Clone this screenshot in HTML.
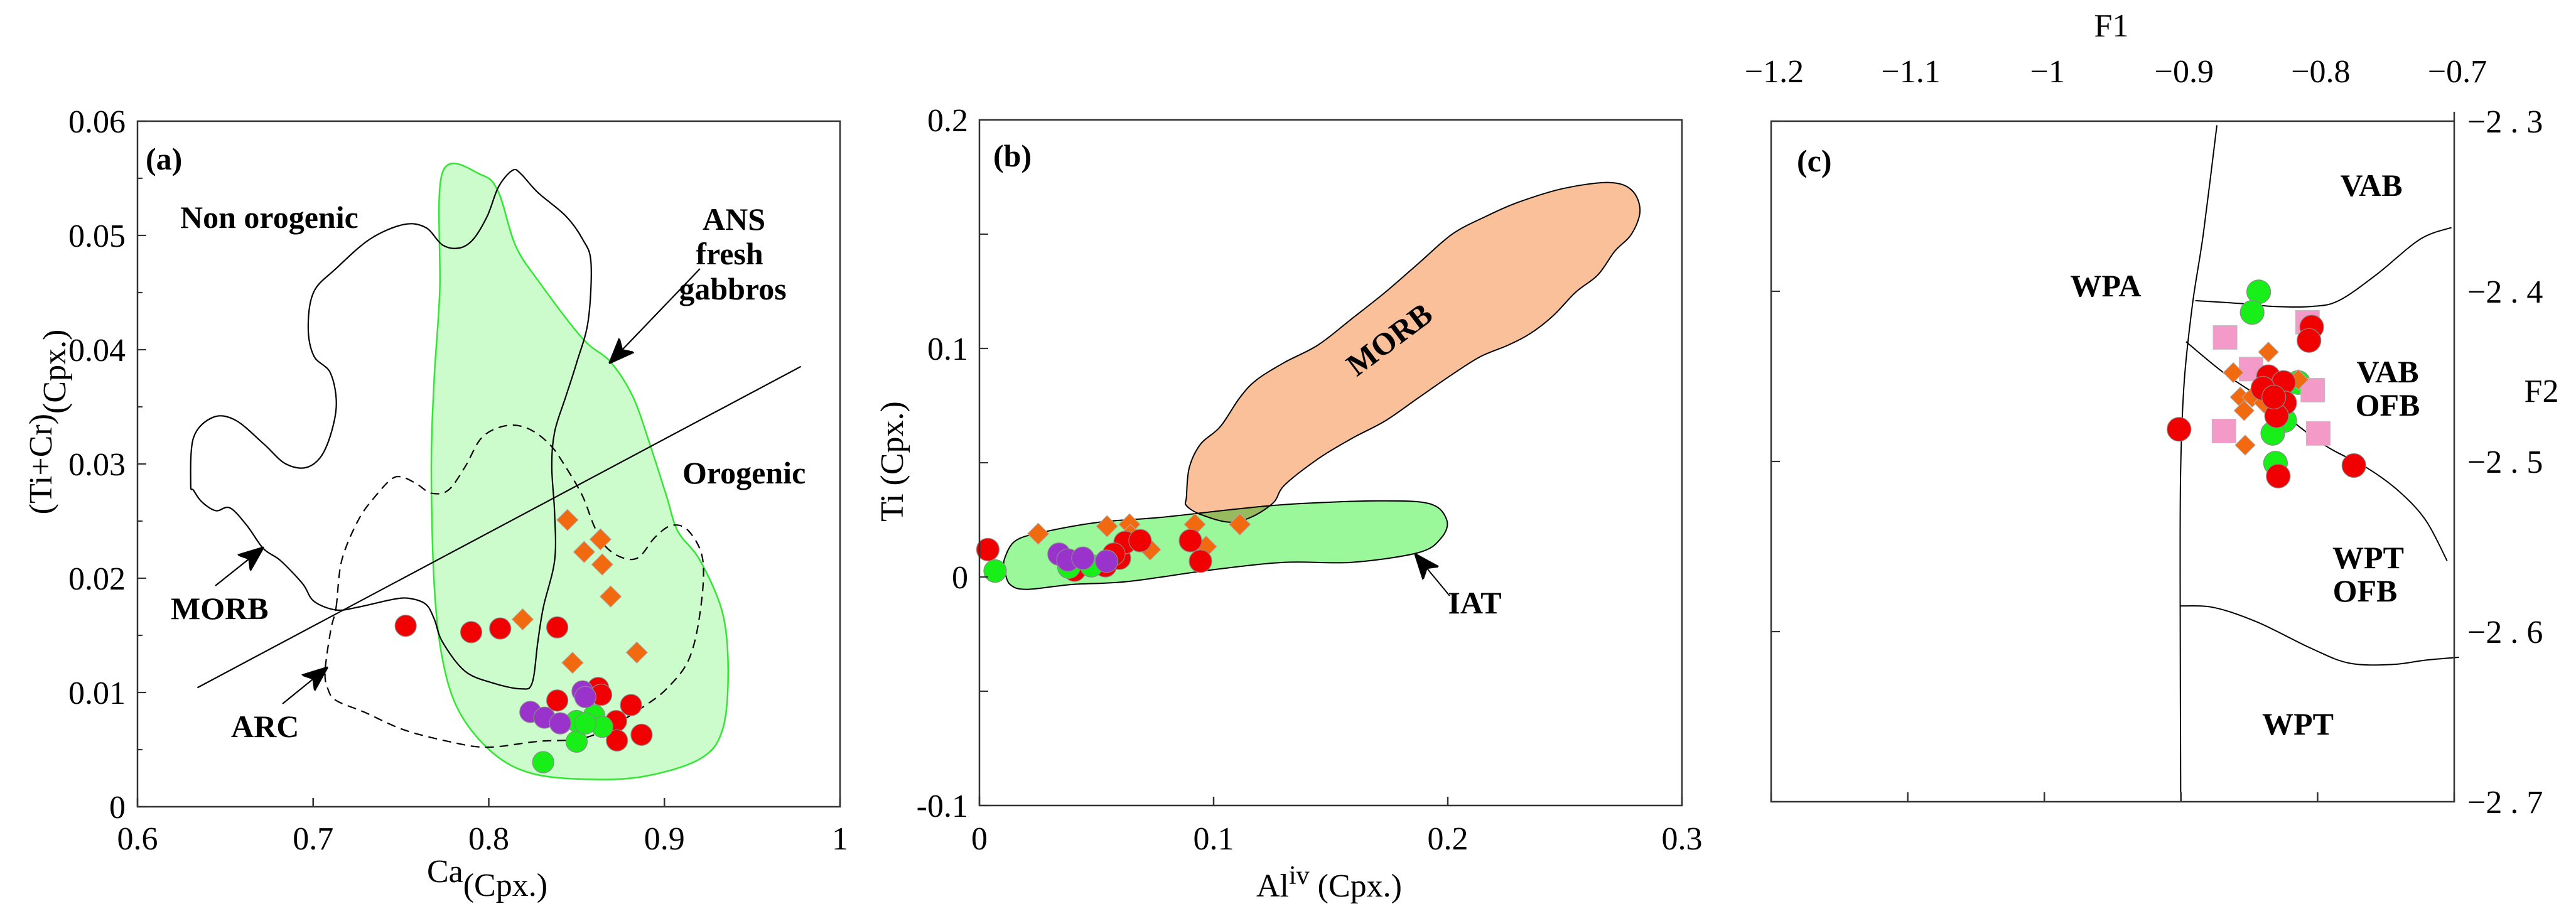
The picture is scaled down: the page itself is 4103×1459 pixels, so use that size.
<!DOCTYPE html>
<html><head><meta charset="utf-8"><style>
html,body{margin:0;padding:0;background:#fff;}
svg{display:block;}
svg text{font-family:"Liberation Serif","Times New Roman",serif;}
.t{font-family:"Liberation Serif","Times New Roman",serif;font-size:52px;fill:#000;}
.b{font-family:"Liberation Serif","Times New Roman",serif;font-size:50px;font-weight:bold;fill:#000;}
</style></head><body>
<svg id="fig" width="4103" height="1459" viewBox="0 0 4103 1459" xmlns="http://www.w3.org/2000/svg" font-family="Liberation Serif, serif">
<defs>
<marker id="ah2" viewBox="0 0 10 10" refX="9" refY="5" markerWidth="40" markerHeight="40" orient="auto" markerUnits="userSpaceOnUse"><path d="M0,1 L10,5 L0,9 L2.5,5 z" fill="#000" stroke="#000" stroke-width="0.6"/></marker></defs>
</svg>
<script>
// ---------- Panel (a) data ----------
var aRedX=[0.7527,0.790,0.8065,0.839,0.839,0.8623,0.864,0.8725,0.881,0.873,0.887];
var aRedY=[0.01584,0.01528,0.0156,0.0157,0.0093,0.0104,0.0098,0.0075,0.0089,0.0058,0.0063];
var aGreenX=[0.831,0.850,0.850,0.860,0.8646,0.855];
var aGreenY=[0.0039,0.0057,0.0075,0.008,0.007,0.0073];
var aPurpleX=[0.8237,0.8317,0.8407,0.8534,0.855];
var aPurpleY=[0.0083,0.0078,0.0073,0.0101,0.0096];
var aOrangeX=[0.8448,0.8636,0.8543,0.8646,0.8694,0.8193,0.8477,0.8843];
var aOrangeY=[0.0251,0.0234,0.0223,0.0212,0.0184,0.0164,0.0126,0.0135];
var aXTicks=[0.6,0.7,0.8,0.9,1];
var aXTickLabels=["0.6","0.7","0.8","0.9","1"];
var aYTicks=[0,0.01,0.02,0.03,0.04,0.05,0.06];
var aYTickLabels=["0","0.01","0.02","0.03","0.04","0.05","0.06"];
var aAns=[[0.7737,0.05555],[0.796,0.05529],[0.8056,0.05376],[0.8151,0.04916],[0.8279,0.04609],[0.8534,0.04098],[0.8693,0.03894],[0.8821,0.03587],[0.8916,0.03178],[0.9012,0.02719],[0.9076,0.02412],[0.9203,0.02156],[0.9331,0.01697],[0.9363,0.01186],[0.9331,0.00675],[0.9203,0.00419],[0.8884,0.00266],[0.8566,0.0024],[0.8247,0.00291],[0.8024,0.0047],[0.7833,0.00828],[0.7737,0.01288],[0.7689,0.01952],[0.7673,0.02974],[0.7689,0.03741],[0.7721,0.04507]];
var aMorb=[[0.6303,0.02821],[0.6319,0.0323],[0.643,0.03408],[0.6558,0.03383],[0.6717,0.03178],[0.6845,0.03],[0.6972,0.02974],[0.7068,0.03127],[0.7131,0.03485],[0.71,0.03792],[0.7004,0.03945],[0.6972,0.042],[0.7004,0.04507],[0.7131,0.04711],[0.7323,0.04967],[0.7514,0.05095],[0.7641,0.05069],[0.7737,0.04916],[0.7833,0.0489],[0.7912,0.04967],[0.7992,0.05171],[0.8056,0.05427],[0.8135,0.0557],[0.8183,0.05539],[0.8279,0.05376],[0.8438,0.05171],[0.8534,0.04967],[0.8582,0.04763],[0.8566,0.04252],[0.8502,0.03894],[0.8438,0.03587],[0.8375,0.03281],[0.8359,0.02974],[0.8375,0.02565],[0.8375,0.02156],[0.8311,0.01748],[0.8279,0.01441],[0.8247,0.01083],[0.8183,0.01032],[0.8024,0.01083],[0.7865,0.01186],[0.7737,0.01441],[0.7689,0.01645],[0.7641,0.01773],[0.7546,0.01824],[0.745,0.01814],[0.7259,0.01748],[0.7131,0.01722],[0.7004,0.01799],[0.694,0.01952],[0.6813,0.02156],[0.6717,0.02259],[0.6622,0.02463],[0.6526,0.02616],[0.6446,0.02591],[0.6367,0.02667],[0.6319,0.0277]];
var aArc=[[0.7131,0.01748],[0.7163,0.02156],[0.7259,0.02514],[0.7355,0.02719],[0.745,0.02872],[0.7514,0.02882],[0.7594,0.02821],[0.7673,0.02744],[0.7769,0.0277],[0.7865,0.02974],[0.796,0.0323],[0.8088,0.03332],[0.8215,0.03316],[0.8343,0.03178],[0.8438,0.02974],[0.8534,0.02719],[0.8598,0.02463],[0.8661,0.02284],[0.8757,0.02182],[0.8853,0.02182],[0.8948,0.02361],[0.9044,0.02463],[0.9139,0.02412],[0.9219,0.02156],[0.9203,0.01697],[0.9139,0.01288],[0.9012,0.01032],[0.8884,0.00879],[0.8725,0.00726],[0.8534,0.00598],[0.8279,0.00572],[0.7992,0.00521],[0.7769,0.00572],[0.7514,0.00675],[0.7291,0.00828],[0.7131,0.0093],[0.7084,0.01032],[0.7068,0.01186],[0.71,0.01543]];
var aDivide=[[0.6341,0.01042],[0.9777,0.03853]];

// ---------- Panel (b) data ----------
var bRedX=[0.0036,0.0406,0.0538,0.0598,0.0622,0.0686,0.0901,0.0944,0.0574];
var bRedY=[0.0120,0.003,0.0049,0.0082,0.0151,0.0159,0.0159,0.0069,0.010];
var bGreenX=[0.0067,0.0382,0.0478];
var bGreenY=[0.0026,0.0043,0.0049];
var bPurpleX=[0.034,0.0378,0.0442,0.0543];
var bPurpleY=[0.010,0.0074,0.0082,0.0069];
var bOrangeX=[0.0251,0.0545,0.0641,0.0729,0.092,0.0968,0.1112,0.0645];
var bOrangeY=[0.0189,0.0222,0.023,0.012,0.023,0.0133,0.023,0.0184];
var bXTicks=[0,0.1,0.2,0.3];
var bXTickLabels=["0","0.1","0.2","0.3"];
var bYTicks=[-0.1,0,0.1,0.2];
var bYTickLabels=["-0.1","0","0.1","0.2"];
var bMorb=[[0.0884,0.035],[0.0896,0.0478],[0.0944,0.0581],[0.1028,0.0657],[0.1112,0.0785],[0.1183,0.0862],[0.1303,0.0939],[0.1446,0.1015],[0.159,0.113],[0.1733,0.1246],[0.1876,0.1373],[0.202,0.1501],[0.2163,0.1578],[0.2307,0.1642],[0.2498,0.1701],[0.2689,0.1726],[0.2785,0.1693],[0.2821,0.1604],[0.2785,0.1501],[0.2713,0.1425],[0.2641,0.1322],[0.2546,0.1246],[0.245,0.1143],[0.2355,0.1067],[0.2259,0.1015],[0.2139,0.0964],[0.202,0.0887],[0.1876,0.0785],[0.1733,0.0683],[0.159,0.0606],[0.1446,0.0517],[0.1303,0.0402],[0.1255,0.0325],[0.1159,0.0261],[0.1064,0.024],[0.0944,0.0274],[0.0884,0.0312]];
var bIat=[[0.0108,0.0082],[0.0155,0.0159],[0.0275,0.0197],[0.0514,0.024],[0.0777,0.0261],[0.1112,0.0299],[0.1351,0.032],[0.1709,0.0333],[0.1924,0.032],[0.1996,0.0248],[0.1972,0.0171],[0.1876,0.0107],[0.159,0.0064],[0.1303,0.0064],[0.0992,0.0031],[0.0633,-0.002],[0.0394,-0.0033],[0.0203,-0.0054],[0.0131,-0.0033],[0.0108,0.0031]];

// ---------- Panel (c) data ----------
var cRedX=[-0.9014,-0.8043,-0.8063,-0.836,-0.8249,-0.84,-0.8241,-0.830,-0.7734,-0.8288,-0.832];
var cRedY=[-2.4811,-2.421,-2.4289,-2.4502,-2.4536,-2.457,-2.4656,-2.4732,-2.5024,-2.5086,-2.4622];
var cGreenX=[-0.8431,-0.8479,-0.8142,-0.8241,-0.8328,-0.8308];
var cGreenY=[-2.4003,-2.4124,-2.4536,-2.4759,-2.4835,-2.501];
var cPinkX=[-0.8677,-0.8074,-0.8487,-0.8035,-0.8685,-0.7995];
var cPinkY=[-2.4271,-2.4182,-2.4457,-2.4581,-2.4821,-2.4835];
var cOrangeX=[-0.836,-0.8617,-0.8142,-0.8566,-0.8479,-0.8392,-0.8538,-0.853];
var cOrangeY=[-2.4357,-2.4478,-2.4519,-2.4622,-2.4622,-2.4656,-2.4701,-2.4904];
var cXTicks=[-1.2,-1.1,-1,-0.9,-0.8,-0.7];
var cXTickLabels=["\u22121.2","\u22121.1","\u22121","\u22120.9","\u22120.8","\u22120.7"];
var cYTicks=[-2.3,-2.4,-2.5,-2.6,-2.7];
var cYTickLabels=["\u22122 . 3","\u22122 . 4","\u22122 . 5","\u22122 . 6","\u22122 . 7"];
var cLeftLine=[[-0.8737,-2.3024],[-0.8836,-2.366],[-0.8915,-2.4072],[-0.8975,-2.4519],[-0.9002,-2.5034],[-0.9006,-2.5722],[-0.9002,-2.7]];
var cUpperLine=[[-0.8895,-2.4055],[-0.8558,-2.4072],[-0.832,-2.4089],[-0.8043,-2.4089],[-0.7845,-2.4055],[-0.7566,-2.39],[-0.725,-2.3694],[-0.702,-2.3625]];
var cDiagLine=[[-0.8963,-2.4296],[-0.8677,-2.4485],[-0.836,-2.4656],[-0.7963,-2.4897],[-0.7646,-2.5034],[-0.7409,-2.5172],[-0.721,-2.5344],[-0.7052,-2.5584]];
var cLowerLine=[[-0.9002,-2.5849],[-0.8756,-2.5859],[-0.8439,-2.5945],[-0.8043,-2.61],[-0.7765,-2.6186],[-0.7448,-2.6193],[-0.721,-2.6168],[-0.6964,-2.6151]];

var NS="http://www.w3.org/2000/svg";
var svg=document.getElementById('fig');
var FONT='"Liberation Serif", serif';
function mk(tag,attrs,parent){var e=document.createElementNS(NS,tag);for(var k in attrs)e.setAttribute(k,attrs[k]);(parent||svg).appendChild(e);return e;}
function lin(d0,d1,p0,p1){return function(v){return p0+(v-d0)/(d1-d0)*(p1-p0);};}
function smooth(pts,sx,sy,closed){
  var P=pts.map(function(p){return [sx(p[0]),sy(p[1])];});var n=P.length;var d="M"+P[0][0]+","+P[0][1];
  var last=closed?n:n-1;
  for(var i=0;i<last;i++){
    var p0=P[closed?(i-1+n)%n:Math.max(i-1,0)],p1=P[i],p2=P[(i+1)%n],p3=P[closed?(i+2)%n:Math.min(i+2,n-1)];
    var c1x=p1[0]+(p2[0]-p0[0])/6,c1y=p1[1]+(p2[1]-p0[1])/6,c2x=p2[0]-(p3[0]-p1[0])/6,c2y=p2[1]-(p3[1]-p1[1])/6;
    d+=" C"+c1x.toFixed(1)+","+c1y.toFixed(1)+" "+c2x.toFixed(1)+","+c2y.toFixed(1)+" "+p2[0].toFixed(1)+","+p2[1].toFixed(1);
  }
  if(closed)d+="Z";return d;
}
function txt(x,y,s,cls,anchor,g){var t=mk('text',{x:x,y:y,'class':cls,'text-anchor':anchor||'start','font-family':FONT},g);t.textContent=s;return t;}
function circles(g,X,Y,sx,sy,r,fill,name){for(var i=0;i<X.length;i++){var c=mk('ellipse',{cx:sx(X[i]),cy:sy(Y[i]),rx:r,ry:r,fill:fill,stroke:'#8a8a8a','stroke-width':1.2},g);

}}
function diamonds(g,X,Y,sx,sy,h,fill,name){for(var i=0;i<X.length;i++){var x=sx(X[i]),y=sy(Y[i]);var p=mk('polygon',{points:x+","+(y-h)+" "+(x+h)+","+y+" "+x+","+(y+h)+" "+(x-h)+","+y,fill:fill,stroke:'#b0b0b0','stroke-width':1},g);

}}
function squares(g,X,Y,sx,sy,h,fill,name){for(var i=0;i<X.length;i++){var r=mk('rect',{x:sx(X[i])-h,y:sy(Y[i])-h,width:2*h,height:2*h,fill:fill,stroke:'#c0c0c0','stroke-width':1},g);

}}

// ===== Panel A =====
(function(){
var L=219,R=1338,T=193,B=1285;
var sx=lin(0.6,1,L,R),sy=lin(0,0.06,B,T);
var g=mk('g',{});


var f=mk('path',{d:smooth(aAns,sx,sy,true),fill:'#ccfccc',stroke:'#33e633','stroke-width':2.5},g);


var m=mk('path',{d:smooth(aMorb,sx,sy,true),fill:'none',stroke:'#000','stroke-width':2.2},g);


var ar=mk('path',{d:smooth(aArc,sx,sy,true),fill:'none',stroke:'#000','stroke-width':2.2,'stroke-dasharray':'14,9'},g);


var dl=mk('line',{x1:sx(aDivide[0][0]),y1:sy(aDivide[0][1]),x2:sx(aDivide[1][0]),y2:sy(aDivide[1][1]),stroke:'#000','stroke-width':2.2},g);


diamonds(g,aOrangeX,aOrangeY,sx,sy,17,'#f26a10','orange-diamond');
circles(g,aRedX,aRedY,sx,sy,17,'#f00000','red-point');
circles(g,aGreenX,aGreenY,sx,sy,17,'#18ee18','green-point');
circles(g,aPurpleX,aPurpleY,sx,sy,17,'#9933cc','purple-point');
var fr=mk('rect',{x:L,y:T,width:R-L,height:B-T,fill:'none',stroke:'#333','stroke-width':2.5},g);


for(var i=0;i<aXTicks.length;i++){var x=sx(aXTicks[i]);mk('line',{x1:x,y1:B,x2:x,y2:B-14,stroke:'#333','stroke-width':2.5},g);
var tl=txt(x,1353,aXTickLabels[i],'t','middle',g);

}
for(var v=0;v<=0.0601;v+=0.005){var y=sy(v);mk('line',{x1:L,y1:y,x2:L+(Math.abs(v*100-Math.round(v*100))<1e-6?14:8),y2:y,stroke:'#333','stroke-width':2.2},g);}
for(i=0;i<aYTicks.length;i++){var yl=txt(200,sy(aYTicks[i])+18,aYTickLabels[i],'t','end',g);

}
var xt=mk('text',{x:776,y:1405,'class':'t','text-anchor':'middle','font-family':FONT},g);xt.innerHTML='Ca<tspan dy="22">(Cpx.)</tspan>';


var yt=mk('text',{x:0,y:0,'class':'t','text-anchor':'middle','font-family':FONT,transform:'translate(82,672) rotate(-90)'},g);yt.innerHTML='(Ti+Cr)<tspan dy="22">(Cpx.)</tspan>';


var la=txt(232,270,'(a)','b','start',g);
var l1=txt(287,363,'Non orogenic','b','start',g);
var l2=txt(1169,366,'ANS','b','middle',g);
var l3=txt(1162,421,'fresh','b','middle',g);
var l4=txt(1167,477,'gabbros','b','middle',g);
var l5=txt(1087,770,'Orogenic','b','start',g);
var l6=txt(272,986,'MORB','b','start',g);
var l7=txt(368,1174,'ARC','b','start',g);
[[1115,428,973,576],[343,933,417,874],[450,1121,519,1065]].forEach(function(a){var ln=mk('line',{x1:a[0],y1:a[1],x2:a[2],y2:a[3],stroke:'#000','stroke-width':2.2,'marker-end':'url(#ah2)'},g);

});
})();

// ===== Panel B =====
(function(){
var L=1560,R=2679,T=191,B=1283;
var sx=lin(0,0.3,L,R),sy=lin(-0.1,0.2,B,T);
var g=mk('g',{});


var iat=mk('path',{d:smooth(bIat,sx,sy,true),fill:'#9af79a',stroke:'#000','stroke-width':2},g);


var mo=mk('path',{d:smooth(bMorb,sx,sy,true),fill:'#f9c09a',stroke:'#000','stroke-width':2,style:'mix-blend-mode:multiply'},g);


diamonds(g,bOrangeX,bOrangeY,sx,sy,17,'#f26a10','orange-diamond');
circles(g,bRedX,bRedY,sx,sy,18,'#f00000','red-point');
circles(g,bGreenX,bGreenY,sx,sy,18,'#18ee18','green-point');
circles(g,bPurpleX,bPurpleY,sx,sy,18,'#9933cc','purple-point');
var fr=mk('rect',{x:L,y:T,width:R-L,height:B-T,fill:'none',stroke:'#333','stroke-width':2.5},g);


for(var i=0;i<bXTicks.length;i++){var x=sx(bXTicks[i]);mk('line',{x1:x,y1:B,x2:x,y2:B-14,stroke:'#333','stroke-width':2.5},g);
var tl=txt(x,1353,bXTickLabels[i],'t','middle',g);

}
for(var v=-0.1;v<=0.2001;v+=0.05){var y=sy(v);mk('line',{x1:L,y1:y,x2:L+14,y2:y,stroke:'#333','stroke-width':2.2},g);}
for(i=0;i<bYTicks.length;i++){var yl=txt(1542,sy(bYTicks[i])+18,bYTickLabels[i],'t','end',g);

}
var xt=mk('text',{x:2117,y:1428,'class':'t','text-anchor':'middle','font-family':FONT},g);xt.innerHTML='Al<tspan dy="-20" font-size="42">iv</tspan><tspan dy="20"> (Cpx.)</tspan>';


var yt=mk('text',{x:0,y:0,'class':'t','text-anchor':'middle','font-family':FONT,transform:'translate(1438,735) rotate(-90)'},g);yt.textContent='Ti (Cpx.)';


var lb=txt(1582,265,'(b)','b','start',g);
var lm=mk('text',{x:0,y:0,'class':'b','text-anchor':'middle','font-family':FONT,transform:'translate(2223,554) rotate(-37)','font-size':'42'},g);lm.textContent='MORB';

var li=txt(2349,977,'IAT','b','middle',g);li.setAttribute('font-size','42');
var ln=mk('line',{x1:2309,y1:949,x2:2256,y2:885,stroke:'#000','stroke-width':2,'marker-end':'url(#ah2)'},g);


})();

// ===== Panel C =====
(function(){
var L=2821,R=3909,T=193,B=1277;
var sx=lin(-1.2,-0.7,L,R),sy=lin(-2.3,-2.7,T,B);
var g=mk('g',{});


[[cLeftLine,'wpa-boundary'],[cUpperLine,'vab-boundary'],[cDiagLine,'vab-ofb-boundary'],[cLowerLine,'wpt-boundary']].forEach(function(o){var p=mk('path',{d:smooth(o[0],sx,sy,false),fill:'none',stroke:'#000','stroke-width':2},g);

});
circles(g,cGreenX,cGreenY,sx,sy,19,'#18ee18','green-point');
squares(g,cPinkX,cPinkY,sx,sy,19,'#f39ac8','pink-square');
diamonds(g,cOrangeX,cOrangeY,sx,sy,16,'#f26a10','orange-diamond');
circles(g,cRedX,cRedY,sx,sy,19,'#f00000','red-point');
var fr=mk('rect',{x:L,y:T,width:R-L,height:B-T,fill:'none',stroke:'#333','stroke-width':2.5},g);


mk('line',{x1:R,y1:T-15,x2:R,y2:T,stroke:'#333','stroke-width':2.5},g);
for(var i=0;i<cXTicks.length;i++){var x=sx(cXTicks[i]);mk('line',{x1:x,y1:B,x2:x,y2:B-15,stroke:'#333','stroke-width':2.5},g);
var tl=txt(x+5,131,cXTickLabels[i],'t','middle',g);

}
for(i=0;i<cYTicks.length;i++){var y=sy(cYTicks[i]);mk('line',{x1:L,y1:y,x2:L+14,y2:y,stroke:'#333','stroke-width':2.2},g);
var yl=txt(3930,y+18,cYTickLabels[i],'t','start',g);

}
var f1=txt(3363,58,'F1','t','middle',g);f1.setAttribute('font-size','48');
var f2=txt(4048,640,'F2','t','middle',g);f2.setAttribute('font-size','48');
var lc=txt(2862,273,'(c)','b','start',g);
[[3777,312,'VAB','vab-label'],[3354,472,'WPA','wpa-label'],[3803,609,'VAB','vab-ofb-label-1'],[3803,662,'OFB','vab-ofb-label-2'],[3772,905,'WPT','wpt-ofb-label-1'],[3767,958,'OFB','wpt-ofb-label-2'],[3660,1170,'WPT','wpt-label']].forEach(function(o){var t=txt(o[0],o[1],o[2],'b','middle',g);t.setAttribute('font-size','44');

});
})();
</script>
</body></html>
